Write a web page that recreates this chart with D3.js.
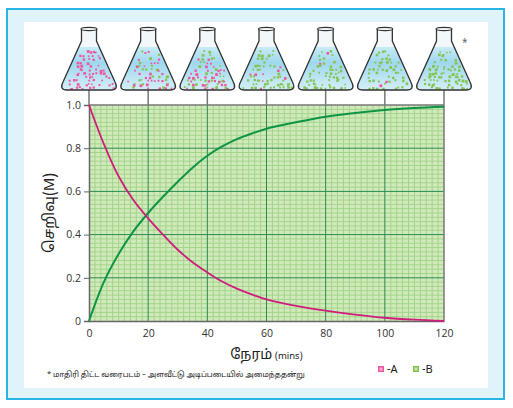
<!DOCTYPE html>
<html>
<head>
<meta charset="utf-8">
<script src="https://cdnjs.cloudflare.com/ajax/libs/d3/7.8.5/d3.min.js"></script>
<style>
  body { margin: 0; background: #fff; }
  text { font-family: "Noto Sans Tamil", "Lohit Tamil", "Noto Sans", "Open Sans", sans-serif; }
</style>
</head>
<body>
<svg id="chart"></svg>
<script>
// values
const times = [0, 5, 10, 15, 20, 25, 30, 35, 40, 45, 50, 55, 60, 70, 80, 90, 100, 110, 120];
const concA = [1.0, 0.82, 0.67, 0.56, 0.475, 0.40, 0.33, 0.272, 0.225, 0.183, 0.15, 0.123, 0.10, 0.07, 0.048, 0.03, 0.015, 0.006, 0];
const concB = [0, 0.18, 0.31, 0.415, 0.50, 0.575, 0.645, 0.71, 0.765, 0.808, 0.842, 0.868, 0.89, 0.92, 0.946, 0.963, 0.977, 0.986, 0.992];
const xTicks = [0, 20, 40, 60, 80, 100, 120];
const yTicks = [0, 0.2, 0.4, 0.6, 0.8, 1.0];
const yTickLabels = ["0", "0.2", "0.4", "0.6", "0.8", "1.0"];
// share of green (B) particles drawn in each flask
const flaskTimes = [0, 20, 40, 60, 80, 100, 120];
const flaskShareB = [0, 0.45, 0.55, 0.75, 0.9, 0.95, 1.0];

const W = 513, H = 408;
const margin = { top: 105, right: 69, bottom: 87, left: 89 },
      width = W - margin.left - margin.right,
      height = H - margin.top - margin.bottom;

const svg = d3.select("#chart")
  .attr("width", W)
  .attr("height", H);

// frame
svg.append("rect")
  .attr("x", 7).attr("y", 9)
  .attr("width", 497).attr("height", 390)
  .attr("fill", "#e0f3fa")
  .attr("stroke", "#2ab4e6")
  .attr("stroke-width", 2);
svg.append("rect")
  .attr("x", 24).attr("y", 22)
  .attr("width", 464).attr("height", 366)
  .attr("fill", "#fff");

const defs = svg.append("defs");
const liq = defs.append("linearGradient")
  .attr("id", "liquid")
  .attr("x1", 0).attr("y1", 0).attr("x2", 0).attr("y2", 1);
liq.append("stop").attr("offset", "0%").attr("stop-color", "#c9ebf7");
liq.append("stop").attr("offset", "35%").attr("stop-color", "#9fd8ee");
liq.append("stop").attr("offset", "100%").attr("stop-color", "#d8f0f9");

const g = svg.append("g")
  .attr("transform", `translate(${margin.left},${margin.top})`);

const x = d3.scaleLinear().domain([0, 120]).range([0, width]);
const y = d3.scaleLinear().domain([0, 1]).range([height, 0]);

// plot background
g.append("rect")
  .attr("width", width).attr("height", height)
  .attr("fill", "#d1eabb");

// minor grid
g.append("g")
  .selectAll("line")
  .data(d3.range(2, 120, 2).filter(t => t % 20 !== 0))
  .join("line")
  .attr("x1", d => x(d)).attr("x2", d => x(d))
  .attr("y1", 0).attr("y2", height)
  .attr("stroke", "#a3d48c").attr("stroke-width", 1);

g.append("g")
  .selectAll("line")
  .data(d3.range(1, 50).filter(i => i % 10 !== 0).map(i => i / 50))
  .join("line")
  .attr("x1", 0).attr("x2", width)
  .attr("y1", d => y(d)).attr("y2", d => y(d))
  .attr("stroke", "#a3d48c").attr("stroke-width", 1);

// major grid
g.append("g")
  .selectAll("line")
  .data(xTicks.slice(1, -1))
  .join("line")
  .attr("x1", d => x(d)).attr("x2", d => x(d))
  .attr("y1", 0).attr("y2", height)
  .attr("stroke", "#2a8a50").attr("stroke-width", 1);

g.append("g")
  .selectAll("line")
  .data(yTicks.slice(1, -1))
  .join("line")
  .attr("x1", 0).attr("x2", width)
  .attr("y1", d => y(d)).attr("y2", d => y(d))
  .attr("stroke", "#2a8a50").attr("stroke-width", 1);

// border top & right
g.append("line")
  .attr("x1", 0).attr("x2", width).attr("y1", 0).attr("y2", 0)
  .attr("stroke", "#777").attr("stroke-width", 1.5);
g.append("line")
  .attr("x1", width).attr("x2", width).attr("y1", 0).attr("y2", height)
  .attr("stroke", "#777").attr("stroke-width", 1.5);

// axes
const xAxis = g.append("g")
  .attr("transform", `translate(0,${height})`)
  .call(d3.axisBottom(x).tickValues(xTicks).tickSize(0).tickPadding(9));
const yAxis = g.append("g")
  .call(d3.axisLeft(y).tickValues(yTicks).tickSize(5).tickPadding(3)
    .tickFormat((d, i) => yTickLabels[i]));

[xAxis, yAxis].forEach(a => {
  a.select(".domain").attr("stroke", "#666").attr("stroke-width", 1.5);
  a.selectAll(".tick line").attr("stroke", "#666");
  a.selectAll(".tick text")
    .attr("fill", "#333")
    .style("font-size", "10.5px")
    .style("font-family", "'Open Sans', 'Noto Sans', sans-serif");
});

// curves
const line = d3.line()
  .x((d, i) => x(times[i]))
  .y(d => y(d))
  .curve(d3.curveCatmullRom.alpha(0.5));

g.append("path")
  .datum(concB)
  .attr("d", line)
  .attr("fill", "none")
  .attr("stroke", "#0e9447")
  .attr("stroke-width", 2);

g.append("path")
  .datum(concA)
  .attr("d", line)
  .attr("fill", "none")
  .attr("stroke", "#d01d7c")
  .attr("stroke-width", 1.8);

// flasks
function hash(n) {
  const s = Math.sin(n * 127.1 + 311.7) * 43758.5453;
  return s - Math.floor(s);
}

const flaskTop = 28, flaskBottom = 90;
const flaskShape = cx => {
  const p = d3.path();
  p.moveTo(cx - 7.5, flaskTop + 1);
  p.lineTo(cx - 7.5, flaskTop + 13);
  p.lineTo(cx - 26, flaskBottom - 8);
  p.quadraticCurveTo(cx - 30, flaskBottom, cx - 22, flaskBottom);
  p.lineTo(cx + 22, flaskBottom);
  p.quadraticCurveTo(cx + 30, flaskBottom, cx + 26, flaskBottom - 8);
  p.lineTo(cx + 7.5, flaskTop + 13);
  p.lineTo(cx + 7.5, flaskTop + 1);
  return p.toString();
};

flaskTimes.forEach((t, k) => {
  const cx = margin.left + x(t);
  const fg = svg.append("g");

  // stem to the plot
  fg.append("line")
    .attr("x1", cx).attr("x2", cx)
    .attr("y1", flaskBottom).attr("y2", margin.top)
    .attr("stroke", "#777").attr("stroke-width", 1.5);

  defs.append("clipPath").attr("id", `clip${k}`)
    .append("path").attr("d", flaskShape(cx));

  fg.append("path").attr("d", flaskShape(cx)).attr("fill", "#f2f8fa");

  const inner = fg.append("g").attr("clip-path", `url(#clip${k})`);
  inner.append("rect")
    .attr("x", cx - 35).attr("y", 47)
    .attr("width", 70).attr("height", 45)
    .attr("fill", "url(#liquid)");

  // particles
  let n = 0;
  for (let row = 0; row < 11; row++) {
    const py = 51 + row * 3.6;
    const half = 9 + (py - 47) * 0.45;
    for (let col = -9; col <= 9; col++) {
      n++;
      const h1 = hash(n + k * 97), h2 = hash(n * 3.1 + k * 13), h3 = hash(n * 7.7 + k * 5);
      if (h3 < 0.45) continue;
      const px = cx + col * 3.3 + (h1 - 0.5) * 2.5;
      if (Math.abs(px - cx) > half - 2.5) continue;
      const isB = h2 < flaskShareB[k];
      const s = 1.5 + h1 * 1.3;
      inner.append("rect")
        .attr("x", px).attr("y", py + (h2 - 0.5) * 2)
        .attr("width", s).attr("height", s)
        .attr("fill", isB ? "#84c450" : "#f0569f");
    }
  }

  fg.append("path").attr("d", flaskShape(cx))
    .attr("fill", "none").attr("stroke", "#333").attr("stroke-width", 1.3);
  fg.append("ellipse")
    .attr("cx", cx).attr("cy", flaskTop + 1)
    .attr("rx", 8).attr("ry", 1.6)
    .attr("fill", "#f2f8fa").attr("stroke", "#333").attr("stroke-width", 1.1);
});

svg.append("text")
  .attr("x", 462).attr("y", 47)
  .attr("fill", "#666")
  .style("font-size", "10px")
  .text("*");

// axis titles
svg.append("text")
  .attr("transform", `translate(54,${margin.top + height / 2}) rotate(-90)`)
  .attr("text-anchor", "middle")
  .attr("fill", "#222")
  .style("font-size", "15px")
  .text("செறிவு(M)");

const xl = svg.append("text")
  .attr("x", margin.left + width / 2)
  .attr("y", 359)
  .attr("text-anchor", "middle")
  .attr("fill", "#222");
xl.append("tspan").style("font-size", "14px").text("நேரம்");
xl.append("tspan").style("font-size", "9.5px").text(" (mins)");

// footnote
svg.append("text")
  .attr("x", 47).attr("y", 377)
  .attr("fill", "#222")
  .style("font-size", "7.5px")
  .text("* மாதிரி திட்ட வரைபடம் – அளவீட்டு அடிப்படையில் அமைந்ததன்று");

// legend
const legendKeys = ["-A", "-B"];
const legendColors = ["#f0569f", "#84c450"];
legendKeys.forEach((key, i) => {
  const lg = svg.append("g").attr("transform", `translate(${378 + i * 35},366)`);
  lg.append("rect")
    .attr("width", 6).attr("height", 6)
    .attr("fill", legendColors[i]);
  lg.append("rect")
    .attr("x", 1.5).attr("y", 1.5)
    .attr("width", 3).attr("height", 3)
    .attr("fill", "#fff").attr("opacity", 0.55);
  lg.append("text")
    .attr("x", 9).attr("y", 7)
    .attr("fill", "#222")
    .style("font-size", "11px")
    .text(key);
});
</script>
</body>
</html>
